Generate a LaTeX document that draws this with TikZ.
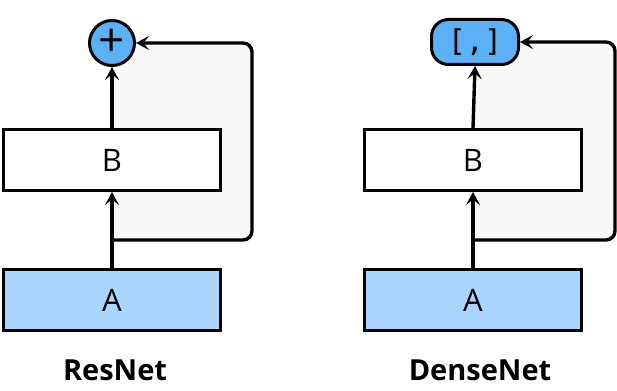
\documentclass[tikz,border=0pt]{standalone}
\usepackage{fontspec}
\setmainfont{Open Sans}
\newfontfamily\monofont{DejaVu Sans Mono}
\usetikzlibrary{arrows.meta}
\definecolor{boxA}{RGB}{170,213,255}
\definecolor{opblue}{RGB}{92,176,246}
\definecolor{loopgray}{RGB}{248,248,248}
\tikzset{
  blk/.style={draw=black, line width=3pt, minimum width=217pt, minimum height=61pt, inner sep=0pt, font=\fontsize{31}{34}\selectfont},
  conn/.style={line width=3.4pt, -{Stealth[length=13pt,width=14pt,inset=5.5pt]}},
  skip/.style={conn, rounded corners=9pt},
  title/.style={font=\fontsize{29}{32}\selectfont\bfseries}
}
\begin{document}
\begin{tikzpicture}[x=1pt,y=-1pt]
\useasboundingbox (0,0) rectangle (617,390);
% gray loop areas
\fill[loopgray, rounded corners=9pt] (112,43) -- (252,43) -- (252,240) -- (112,240) [sharp corners] -- cycle;
\fill[loopgray, rounded corners=9pt] (473,42) -- (615,42) -- (615,240) -- (473,240) [sharp corners] -- cycle;
% ResNet
\node[blk, fill=boxA] (A1) at (112,300) {A};
\node[blk, fill=white] (B1) at (112,160) {B};
\node[circle, draw=black, line width=3pt, fill=opblue, minimum size=45pt, inner sep=0pt, font=\fontsize{46}{46}\selectfont] (P1) at (112,43) {\raisebox{1pt}{+}};
\coordinate (S1) at (112,240);
\draw[conn] (A1.north) -- (B1.south);
\draw[conn] (B1.north) -- (P1.south);
\draw[skip] (S1) -- (252,240) -- (252,43) -- (P1.east);
\node[title] (T1) at (115,370) {ResNet};
% DenseNet
\node[blk, fill=boxA] (A2) at (473,300) {A};
\node[blk, fill=white] (B2) at (473,160) {B};
\node[draw=black, line width=3pt, fill=opblue, minimum width=87pt, minimum height=45pt, rounded corners=17pt, inner sep=0pt, font=\monofont\fontsize{30}{30}\selectfont] (C2) at (475,42) {[,]};
\coordinate (S2) at (473,240);
\draw[conn] (A2.north) -- (B2.south);
\draw[conn] (B2.north) -- (C2.south);
\draw[skip] (S2) -- (615,240) -- (615,42) -- (C2.east);
\node[title] (T2) at (480,370) {DenseNet};
\end{tikzpicture}
\end{document}
